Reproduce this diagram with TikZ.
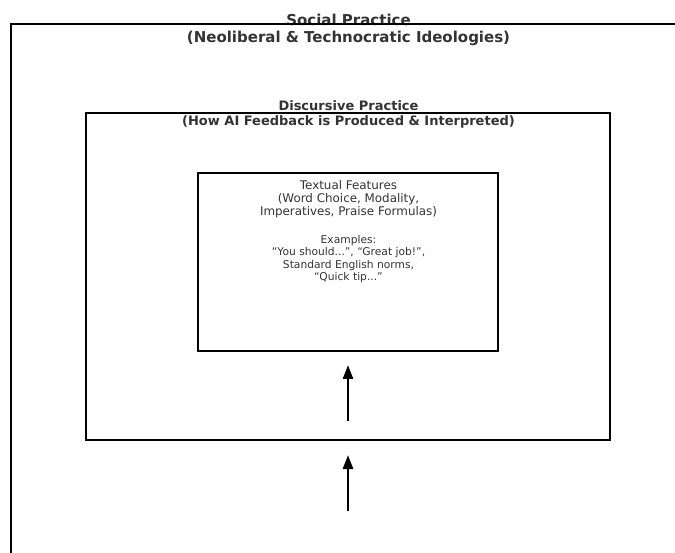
\documentclass[tikz,border=0pt]{standalone}
\usepackage{fontspec}
\setmainfont{DejaVu Sans}
\usetikzlibrary{arrows.meta}
\definecolor{txt}{HTML}{333333}
\begin{document}
\begin{tikzpicture}[x=1pt,y=-1pt,
  box/.style={draw=black,line width=2pt,inner sep=0pt,fill=none},
  titletext/.style={text=txt,align=center,inner sep=0pt,font=\bfseries\fontsize{15}{17}\selectfont},
  subtitletext/.style={text=txt,align=center,inner sep=0pt,font=\bfseries\fontsize{13}{15}\selectfont},
  bodytext/.style={text=txt,align=center,inner sep=0pt,font=\fontsize{11.9}{13}\selectfont},
  smalltext/.style={text=txt,align=center,inner sep=0pt,font=\fontsize{10.7}{12.6}\selectfont},
  uparrow/.style={draw=black,line width=2.7pt,-{Triangle[length=14pt,width=10pt]}}]
\useasboundingbox (0,0) rectangle (675,553);
\clip (0,0) rectangle (675,553);
\node[titletext] (socT) at (348.5,30) {Social Practice\\(Neoliberal \& Technocratic Ideologies)};
\node[box,minimum width=689pt,minimum height=576pt] (social) at (355.5,312) {};
\node[box,minimum width=524pt,minimum height=327pt] (disc) at (348,276.5) {};
\node[subtitletext] (discT) at (348.5,114.5) {Discursive Practice\\(How AI Feedback is Produced \& Interpreted)};
\node[box,minimum width=300pt,minimum height=178pt] (textual) at (348,262) {};
\node[bodytext] (featT) at (348.5,199) {Textual Features\\(Word Choice, Modality,\\Imperatives, Praise Formulas)};
\node[smalltext] (exT) at (348.5,259) {Examples:\\“You should...”, “Great job!”,\\Standard English norms,\\“Quick tip...”};
\coordinate (a1s) at (348,421);
\coordinate (a1e) at (348,365);
\coordinate (a2s) at (348,511);
\coordinate (a2e) at (348,455);
\draw[uparrow] (a1s) -- (a1e);
\draw[uparrow] (a2s) -- (a2e);
\end{tikzpicture}
\end{document}
